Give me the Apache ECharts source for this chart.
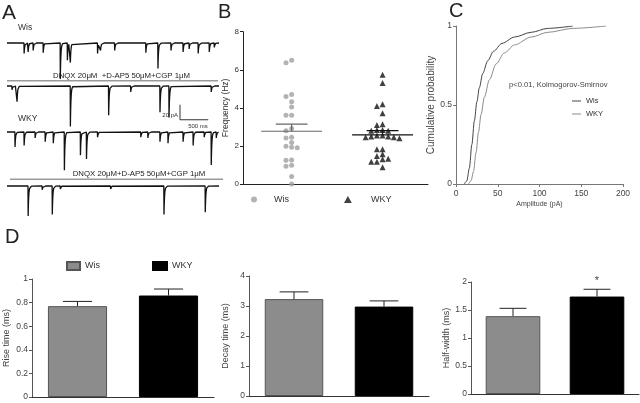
<!DOCTYPE html>
<html><head><meta charset="utf-8">
<script src="https://cdn.jsdelivr.net/npm/echarts@6/dist/echarts.min.js"></script>
<style>html,body{margin:0;padding:0;background:#fff}#c{width:640px;height:403px}</style>
</head><body><div id="c"></div>
<script>
// ---------- Panel A : synaptic events [time (ms), amplitude (pA)] ----------
const traceDuration = 3750;
const wisControlEvents = [[303,14],[374,12],[463,10],[641,13],[943,48],[1068,23],[1121,26],[1602,14],[1655,10],[1905,10],[2456,13],[2670,34],[2901,10],[3115,12],[3222,8],[3382,14],[3578,12],[3667,6]];
const wisDrugEvents = [[89,5],[178,21],[1121,54],[1798,39],[2189,8],[2706,35],[2866,42],[3613,8]];
const wkyControlEvents = [[142,20],[303,18],[498,8],[676,13],[819,15],[1015,51],[1299,31],[1406,36],[1602,7],[2367,7],[2492,8],[2706,13],[2848,15],[3115,13],[3293,18],[3489,7],[3613,44],[3702,8]];
const wkyDrugEvents = [[374,40],[623,5],[801,38],[943,4],[1833,4],[2777,38],[3507,35]];
const scaleBarAmp = 20;   // pA
const scaleBarTime = 500; // ms

// ---------- Panel B : frequency (Hz) ----------
const groupNames = ['Wis', 'WKY'];
const wisFreq = [6.5,6.37,4.7,4.6,4.32,4.05,3.61,3.61,2.91,2.8,2.46,2.42,2.18,1.93,1.9,1.98,1.25,1.26,0.93,0.98,0.4,0];
const wkyFreq = [5.74,5.3,4.19,4.1,3.72,3.14,3.1,2.84,2.8,2.8,2.84,2.5,2.45,2.4,2.45,2.5,2.55,2.55,1.82,1.82,1.56,1.47,1.3,1.33,1.17,1.17,0.88];
const freqMean = [2.77, 2.58];
const freqSem = [0.38, 0.22];
const freqTicks = [0, 2, 4, 6, 8];

// ---------- Panel C : cumulative probability of amplitude ----------
const wisCum = [[10,0],[13,0.02],[16,0.1],[19,0.25],[22,0.4],[25,0.52],[28,0.61],[32,0.7],[38,0.78],[45,0.84],[55,0.89],[70,0.93],[90,0.96],[110,0.985],[140,1]];
const wkyCum = [[15,0],[18,0.02],[21,0.08],[24,0.2],[27,0.33],[30,0.44],[34,0.55],[40,0.66],[48,0.76],[58,0.83],[70,0.88],[90,0.93],[110,0.96],[140,0.985],[180,1]];
const ampTicks = [0, 50, 100, 150, 200];

// ---------- Panel D : kinetics ----------
const riseMean = [0.77, 0.86];
const riseSem = [0.04, 0.055];
const decayMean = [3.23, 2.98];
const decaySem = [0.24, 0.19];
const halfMean = [1.39, 1.74];
const halfSem = [0.14, 0.13];

// ---------------------------------------------------------------
const FONT = 'Liberation Sans, Arial, Helvetica, sans-serif';
const TAU = 10;
function kernel(dt) { return dt < 0 ? 0 : Math.exp(-dt / TAU); }
function buildTrace(events) {
  const ts = new Set([0, traceDuration]);
  events.forEach(([t]) => {
    [-3, 0, 3, 6, 10, 16, 25, 40, 60].forEach(d => {
      const v = t + d; if (v >= 0 && v <= traceDuration) ts.add(v);
    });
  });
  return [...ts].sort((a, b) => a - b).map(t =>
    [t, -events.reduce((s, [te, a]) => s + a * kernel(t - te), 0)]);
}
const SWARM_DX = 0.062, SWARM_DY = 0.24;
function swarm(vals, group) {
  const placed = [], out = [];
  const order = vals.map((v, i) => i).sort((a, b) => vals[b] - vals[a]);
  const slots = [0, -1, 1, -2, 2, -3, 3, -4, 4, -5, 5];
  order.forEach(i => {
    const v = vals[i];
    for (const k of slots) {
      if (!placed.some(p => p.k === k && Math.abs(p.v - v) < SWARM_DY)) {
        placed.push({ k, v }); out.push([group + k * SWARM_DX, v]); break;
      }
    }
  });
  return out;
}

const baselines = [43, 86, 132, 186];
const traceEvents = [wisControlEvents, wisDrugEvents, wkyControlEvents, wkyDrugEvents];
const noBounds = { outerBoundsMode: 'none', containLabel: false };

const grid = [];
const xAxis = [];
const yAxis = [];
const series = [];

baselines.forEach((b, i) => {
  grid.push(Object.assign({ left: 7, width: 212, top: b - 3, height: 48 }, noBounds));
  xAxis.push({ type: 'value', gridIndex: i, min: 0, max: traceDuration, show: false });
  yAxis.push({ type: 'value', gridIndex: i, min: -60, max: 4, show: false });
  series.push({
    type: 'line', xAxisIndex: i, yAxisIndex: i, data: buildTrace(traceEvents[i]),
    symbol: 'none', silent: true, lineStyle: { color: '#111', width: 1.3 }
  });
});
// scale bar in trace-2 coordinates
const sbT = 3060, sbTop = -25;
series.push({
  type: 'line', xAxisIndex: 1, yAxisIndex: 1, symbol: 'none', silent: true,
  data: [[sbT, sbTop], [sbT, sbTop - scaleBarAmp], [sbT + scaleBarTime, sbTop - scaleBarAmp]],
  lineStyle: { color: '#333', width: 1 }
});

const axLbl = (size, color) => ({ fontSize: size, color: color || '#333', fontFamily: FONT });

// Panel B grid index 4
grid.push(Object.assign({ left: 243, width: 185, top: 31.7, height: 152.3 }, noBounds));
xAxis.push({ type: 'value', gridIndex: 4, min: 0.465, max: 2.5, axisLine: { lineStyle: { color: '#222' } },
  axisTick: { show: false }, axisLabel: { show: false }, splitLine: { show: false } });
yAxis.push({ type: 'value', gridIndex: 4, min: freqTicks[0], max: freqTicks[freqTicks.length - 1], interval: freqTicks[1] - freqTicks[0],
  axisLine: { show: true, lineStyle: { color: '#222' } }, axisTick: { show: true, length: 3, lineStyle: { color: '#222' } },
  axisLabel: Object.assign({ margin: 4 }, axLbl(8)), splitLine: { show: false },
  name: 'Frequency (Hz)', nameLocation: 'middle', nameGap: 10, nameTextStyle: axLbl(8.5) });
series.push({ name: 'B-Wis', type: 'scatter', xAxisIndex: 4, yAxisIndex: 4, symbol: 'circle', symbolSize: 5,
  itemStyle: { color: '#a0a0a0' }, data: swarm(wisFreq, 1), silent: true });
series.push({ name: 'B-WKY', type: 'scatter', xAxisIndex: 4, yAxisIndex: 4, symbol: 'triangle', symbolSize: 6,
  itemStyle: { color: '#111' }, data: swarm(wkyFreq, 2), silent: true });
function meanRender(color) {
  return function (params, api) {
    const x = api.value(0), m = api.value(1), s = api.value(2);
    const a = api.coord([x - 0.335, m]), b = api.coord([x + 0.335, m]);
    const c = api.coord([x - 0.175, m + s]), d = api.coord([x + 0.175, m + s]);
    const e = api.coord([x, m]), f = api.coord([x, m + s]);
    const st = { stroke: color, lineWidth: 1.2 };
    return { type: 'group', children: [
      { type: 'line', shape: { x1: a[0], y1: a[1], x2: b[0], y2: b[1] }, style: st },
      { type: 'line', shape: { x1: c[0], y1: c[1], x2: d[0], y2: d[1] }, style: st },
      { type: 'line', shape: { x1: e[0], y1: e[1], x2: f[0], y2: f[1] }, style: st }
    ] };
  };
}
series.push({ type: 'custom', xAxisIndex: 4, yAxisIndex: 4, z: 5, silent: true, renderItem: meanRender('#666'),
  data: [[1, freqMean[0], freqSem[0]]] });
series.push({ type: 'custom', xAxisIndex: 4, yAxisIndex: 4, z: 5, silent: true, renderItem: meanRender('#111'),
  data: [[2, freqMean[1], freqSem[1]]] });

// Panel C grid index 5
grid.push(Object.assign({ left: 456, width: 167, top: 26, height: 158 }, noBounds));
xAxis.push({ type: 'value', gridIndex: 5, min: ampTicks[0], max: ampTicks[ampTicks.length - 1], interval: ampTicks[1] - ampTicks[0],
  axisLine: { lineStyle: { color: '#777' } }, axisTick: { show: true, length: 3, lineStyle: { color: '#777' } },
  axisLabel: Object.assign({ margin: 5 }, axLbl(8.5, '#444')), splitLine: { show: false },
  name: 'Amplitude (pA)', nameLocation: 'middle', nameGap: 17, nameTextStyle: axLbl(7, '#444') });
yAxis.push({ type: 'value', gridIndex: 5, min: 0, max: 1, interval: 0.5,
  axisLine: { show: true, lineStyle: { color: '#777' } }, axisTick: { show: true, length: 3, lineStyle: { color: '#777' } },
  axisLabel: Object.assign({ margin: 4 }, axLbl(8.5, '#444')), splitLine: { show: false },
  name: 'Cumulative probability', nameLocation: 'middle', nameGap: 12, nameTextStyle: axLbl(10, '#444') });
series.push({ name: 'C-Wis', type: 'line', xAxisIndex: 5, yAxisIndex: 5, data: wisCum, symbol: 'none', smooth: 0.3,
  smoothMonotone: 'x', silent: true, itemStyle: { color: '#444' }, lineStyle: { color: '#444', width: 1 } });
series.push({ name: 'C-WKY', type: 'line', xAxisIndex: 5, yAxisIndex: 5, data: wkyCum, symbol: 'none', smooth: 0.3,
  smoothMonotone: 'x', silent: true, itemStyle: { color: '#8a8a8a' }, lineStyle: { color: '#8a8a8a', width: 1 } });

// Panel D grids 6,7,8
const dPanels = [
  { g: { left: 32, width: 182, top: 279, height: 118 }, max: 1, interval: 0.2, name: 'Rise time (ms)', gap: 21, mean: riseMean, sem: riseSem },
  { g: { left: 249, width: 180, top: 276, height: 120 }, max: 4, interval: 1, name: 'Decay time (ms)', gap: 19, mean: decayMean, sem: decaySem },
  { g: { left: 471, width: 168, top: 282, height: 112 }, max: 2, interval: 0.5, name: 'Half-width (ms)', gap: 19, mean: halfMean, sem: halfSem }
];
const capRatio = 0.32;
function errRender(params, api) {
  const x = api.value(0), m = api.value(1), e = api.value(2);
  const p0 = api.coord([x, m]), p1 = api.coord([x, m + e]);
  const half = api.size([1, 0])[0] * capRatio / 2;
  const st = { stroke: '#222', lineWidth: 1 };
  return { type: 'group', children: [
    { type: 'line', shape: { x1: p0[0], y1: p0[1], x2: p1[0], y2: p1[1] }, style: st },
    { type: 'line', shape: { x1: p1[0] - half, y1: p1[1], x2: p1[0] + half, y2: p1[1] }, style: st }
  ] };
}
dPanels.forEach((p, k) => {
  const gi = 6 + k;
  grid.push(Object.assign({}, p.g, noBounds));
  xAxis.push({ type: 'category', gridIndex: gi, data: groupNames, axisLine: { lineStyle: { color: '#333' } },
    axisTick: { show: false }, axisLabel: { show: false } });
  yAxis.push({ type: 'value', gridIndex: gi, min: 0, max: p.max, interval: p.interval,
    axisLine: { show: true, lineStyle: { color: '#555' } }, axisTick: { show: true, length: 3, lineStyle: { color: '#555' } },
    axisLabel: Object.assign({ margin: 4 }, axLbl(8.5, '#444')), splitLine: { show: false },
    name: p.name, nameLocation: 'middle', nameGap: p.gap, nameTextStyle: axLbl(9, '#444') });
  series.push({ name: 'D-Wis', type: 'bar', xAxisIndex: gi, yAxisIndex: gi, barWidth: '65%', barGap: '-100%', silent: true,
    itemStyle: { color: '#8c8c8c', borderColor: '#555', borderWidth: 1 }, data: [p.mean[0], '-'] });
  series.push({ name: 'D-WKY', type: 'bar', xAxisIndex: gi, yAxisIndex: gi, barWidth: '65%', barGap: '-100%', silent: true,
    itemStyle: { color: '#000', borderColor: '#000', borderWidth: 1 }, data: ['-', p.mean[1]] });
  series.push({ type: 'custom', xAxisIndex: gi, yAxisIndex: gi, z: 5, silent: true, renderItem: errRender,
    data: [[0, p.mean[0], p.sem[0]], [1, p.mean[1], p.sem[1]]] });
});

const lgText = size => ({ fontSize: size, color: '#333', fontFamily: FONT });
const fmt = n => n.slice(2);
const legend = [
  { data: [{ name: 'B-Wis', icon: 'circle' }], left: 251, top: 195, padding: 0, itemWidth: 30, itemHeight: 6, selectedMode: false, formatter: fmt, textStyle: lgText(9) },
  { data: [{ name: 'B-WKY', icon: 'path://M5,0L10,9L0,9Z' }], left: 344, top: 195, padding: 0, itemWidth: 36, itemHeight: 7, selectedMode: false, formatter: fmt, textStyle: lgText(9) },
  { data: [{ name: 'C-Wis', icon: 'rect' }, { name: 'C-WKY', icon: 'rect' }], orient: 'vertical', left: 572, top: 97, padding: 0, itemWidth: 9, itemHeight: 1, itemGap: 5, selectedMode: false, formatter: fmt, textStyle: lgText(7.5) },
  { data: [{ name: 'D-Wis', icon: 'rect' }], left: 66, top: 261, padding: 0, itemWidth: 13, itemHeight: 8, selectedMode: false, formatter: fmt, textStyle: lgText(9) },
  { data: [{ name: 'D-WKY', icon: 'rect' }], left: 152, top: 261, padding: 0, itemWidth: 14, itemHeight: 8, selectedMode: false, formatter: fmt, textStyle: lgText(9) }
];

function txt(x, y, text, size, opts) {
  return { type: 'text', x, y, silent: true, style: Object.assign({ text, font: size + 'px ' + FONT, fill: '#333', align: 'left', verticalAlign: 'middle' }, opts || {}) };
}
const graphic = [
  txt(2, 13, 'A', 21, { fill: '#222' }),
  txt(218, 12, 'B', 20, { fill: '#222' }),
  txt(449, 11, 'C', 20, { fill: '#222' }),
  txt(5, 237, 'D', 20, { fill: '#222' }),
  txt(18, 28, 'Wis', 8.5),
  txt(18, 119, 'WKY', 8.5),
  txt(121.5, 75.5, 'DNQX 20\u03bcM  +D-AP5 50\u03bcM+CGP 1\u03bcM', 7.8, { align: 'center', fill: '#222' }),
  txt(139, 174.2, 'DNQX 20\u03bcM+D-AP5 50\u03bcM+CGP 1\u03bcM', 7.8, { align: 'center', fill: '#222' }),
  { type: 'line', silent: true, shape: { x1: 7, y1: 80.7, x2: 218, y2: 80.7 }, style: { stroke: '#9a9a9a', lineWidth: 1.5 } },
  { type: 'line', silent: true, shape: { x1: 10, y1: 179.3, x2: 223, y2: 179.3 }, style: { stroke: '#9a9a9a', lineWidth: 1.5 } },
  txt(178, 115, '20 pA', 6, { align: 'right' }),
  txt(198, 126, '500 ms', 6, { align: 'center' }),
  txt(509, 85, 'p<0.01, Kolmogorov-Smirnov', 7.6, { fill: '#444' }),
  txt(597, 281, '*', 11, { align: 'center', fill: '#444' })
];

const chart = echarts.init(document.getElementById('c'), null, { renderer: 'canvas' });
chart.setOption({
  animation: false,
  backgroundColor: '#fff',
  textStyle: { fontFamily: FONT },
  grid, xAxis, yAxis, series, legend, graphic,
  tooltip: { show: false }
});
</script>
</body></html>
